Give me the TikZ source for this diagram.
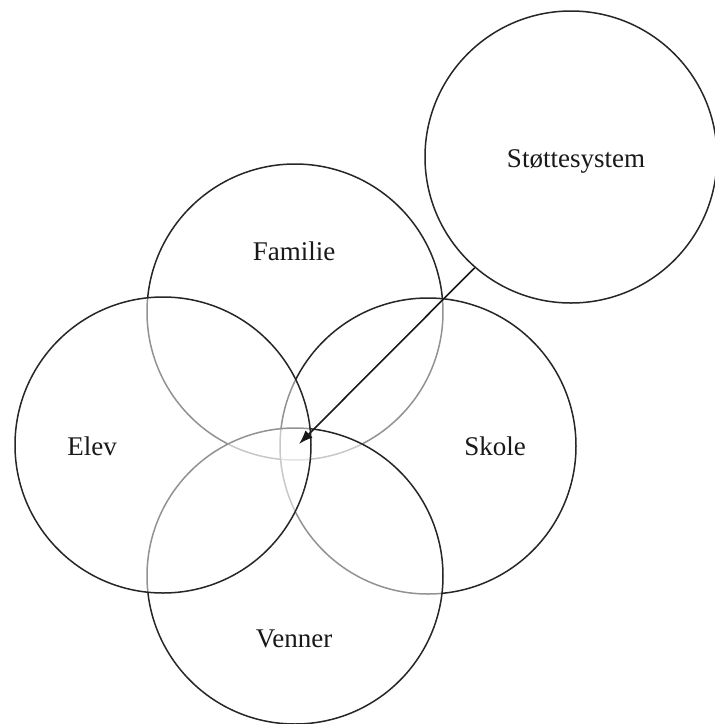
\documentclass[tikz,border=0pt]{standalone}
\usepackage{fontspec}
\setmainfont{Liberation Serif}
\usetikzlibrary{arrows.meta}
\begin{document}
\begin{tikzpicture}[x=1pt,y=-1pt,
  ring/.style={circle, draw=black!85, line width=1.5pt, fill=white, fill opacity=0.5, draw opacity=1, minimum size=296pt, inner sep=0pt},
  lbl/.style={anchor=base, inner sep=0pt, font=\fontsize{27}{31}\selectfont, text=black!90},
  conn/.style={draw=black!90, line width=1.6pt, -{Latex[length=14pt,width=10pt]}}]
\useasboundingbox (0,0) rectangle (715,724);
\fill[white] (0,0) rectangle (715,724);
\node[ring] (fam) at (295,312) {};
\node[ring] (sko) at (428,446) {};
\node[ring] (ven) at (295,576) {};
\node[ring] (elv) at (163,445) {};
\node[ring, minimum size=292pt] (sto) at (571,157) {};
\node[lbl] (tfam) at (294,260) {Familie};
\node[lbl] (tsko) at (495,455) {Skole};
\node[lbl] (tven) at (294,647) {Venner};
\node[lbl] (telv) at (92,455) {Elev};
\node[lbl] (tsto) at (576,167) {Støttesystem};
\coordinate (tip) at (299,444);
\draw[conn] (sto.229) -- (tip);
\end{tikzpicture}
\end{document}
